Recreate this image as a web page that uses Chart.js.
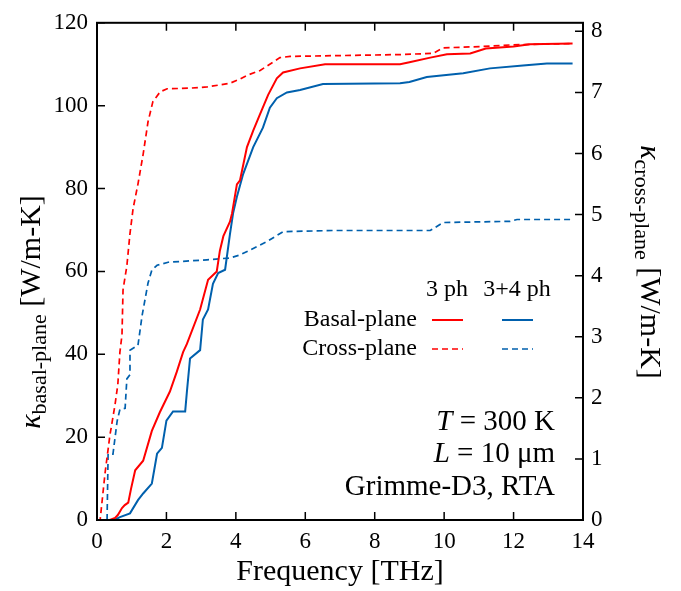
<!DOCTYPE html>
<html>
<head>
<meta charset="utf-8">
<script src="https://cdn.jsdelivr.net/npm/chart.js@4.4.1/dist/chart.umd.min.js"></script>
<style>
  html, body { margin: 0; padding: 0; background: #fff; }
</style>
</head>
<body>
<canvas id="chart" width="681" height="591"></canvas>
<script>
// [frequency THz, kappa W/m-K]
const basal3 = [[0,0],[0.37,0],[0.52,0.5],[0.6,1.2],[0.72,2.9],[0.8,3.6],[0.9,4.2],[0.98,7.5],[1.1,12],[1.33,14.3],[1.58,21.5],[1.81,26],[2.1,31],[2.3,35.8],[2.48,40.5],[2.59,42.5],[2.97,50.8],[3.2,58],[3.45,60],[3.54,65],[3.64,68.5],[3.83,72],[3.89,74],[4.03,81],[4.12,82],[4.32,90],[4.5,94],[4.7,98],[4.93,102.6],[5.18,106.6],[5.36,108],[5.85,109],[6.57,110],[8.73,110],[9.0,110.5],[9.6,111.6],[10.08,112.4],[10.75,112.6],[11.2,113.8],[12.0,114.3],[12.47,114.8],[13.7,115]];
const basal34 = [[0,0],[0.5,0],[0.66,0.7],[0.95,1.6],[1.18,4.8],[1.33,6.4],[1.58,8.8],[1.73,16],[1.87,17.4],[2.0,24],[2.19,26.2],[2.54,26.2],[2.59,31],[2.68,39],[2.97,41],[3.05,48.4],[3.2,50.8],[3.34,57],[3.49,59.6],[3.69,60.4],[3.83,69],[3.92,74],[4.03,78],[4.21,83.5],[4.5,90],[4.78,94.7],[4.98,99.5],[5.18,101.8],[5.47,103.2],[5.85,103.8],[6.51,105.2],[8.73,105.4],[9.0,105.7],[9.5,106.9],[10.55,107.8],[11.32,109],[12.27,109.7],[12.96,110.2],[13.7,110.2]];
const cross3 = [[0,0],[0.09,0],[0.23,0.76],[0.37,1.38],[0.52,1.89],[0.6,2.22],[0.66,2.75],[0.72,3.03],[0.75,3.77],[0.86,4.16],[0.95,4.69],[1.04,5.1],[1.18,5.5],[1.33,5.99],[1.47,6.52],[1.61,6.85],[1.82,7.01],[2.02,7.06],[2.68,7.07],[3.17,7.09],[3.83,7.15],[4.12,7.22],[4.32,7.28],[4.7,7.36],[5.27,7.57],[5.56,7.59],[8.73,7.62],[9.68,7.64],[9.97,7.73],[11.03,7.75],[11.99,7.78],[13.71,7.8]];
const cross34 = [[0,0],[0.29,0],[0.32,1.08],[0.46,1.08],[0.58,1.62],[0.66,1.81],[0.81,1.83],[0.86,2.31],[0.95,2.38],[0.95,2.78],[1.18,2.86],[1.3,3.35],[1.47,3.88],[1.58,4.09],[1.73,4.17],[2.05,4.22],[3.17,4.26],[3.83,4.29],[4.12,4.34],[4.41,4.42],[4.9,4.56],[5.36,4.72],[6.8,4.74],[8.73,4.74],[9.6,4.74],[9.8,4.81],[9.97,4.87],[11.9,4.89],[12.1,4.92],[13.71,4.92]];

const RED = '#ff0000';
const BLUE = '#0060ad';
const SERIF = '"Liberation Serif", "DejaVu Serif", serif';

function pts(arr) {
    return arr.map(p => ({ x: p[0], y: p[1] }));
}

// kappa axis title with a subscript, drawn along a rotated baseline
function kappaTitle(ctx, cx, cy, angle, sub) {
    ctx.save();
    ctx.translate(cx, cy);
    ctx.rotate(angle);
    ctx.textBaseline = 'alphabetic';
    ctx.textAlign = 'left';
    const big = '30px ' + SERIF, bigIt = 'italic 30px ' + SERIF, small = '22px ' + SERIF;
    ctx.font = bigIt; const w1 = ctx.measureText('\u03ba').width;
    ctx.font = small; const w2 = ctx.measureText(sub).width;
    ctx.font = big; const w3 = ctx.measureText(' [W/m-K]').width;
    let x = -(w1 + w2 + w3) / 2;
    ctx.fillStyle = '#000';
    ctx.font = bigIt; ctx.fillText('\u03ba', x, 0); x += w1;
    ctx.font = small; ctx.fillText(sub, x, 6); x += w2;
    ctx.font = big; ctx.fillText(' [W/m-K]', x, 0);
    ctx.restore();
}

// right-aligned line that starts with an italic symbol
function italicLead(ctx, right, y, lead, rest) {
    ctx.font = '29px ' + SERIF;
    const wr = ctx.measureText(rest).width;
    ctx.textAlign = 'right';
    ctx.fillText(rest, right, y);
    ctx.font = 'italic 29px ' + SERIF;
    ctx.fillText(lead, right - wr, y);
}

const frame = {
    id: 'frame',
    afterDraw(chart) {
        const ctx = chart.ctx, a = chart.chartArea;
        const sx = chart.scales.x, sy = chart.scales.y, sy2 = chart.scales.y2;
        ctx.save();
        ctx.strokeStyle = '#000';
        ctx.lineWidth = 1.5;
        ctx.beginPath();
        sx.ticks.forEach(t => {
            const px = sx.getPixelForValue(t.value);
            ctx.moveTo(px, a.bottom); ctx.lineTo(px, a.bottom - 8);
            ctx.moveTo(px, a.top); ctx.lineTo(px, a.top + 8);
        });
        sy.ticks.forEach(t => {
            const py = sy.getPixelForValue(t.value);
            ctx.moveTo(a.left, py); ctx.lineTo(a.left + 8, py);
        });
        sy2.ticks.forEach(t => {
            const py = sy2.getPixelForValue(t.value);
            ctx.moveTo(a.right, py); ctx.lineTo(a.right - 8, py);
        });
        ctx.stroke();
        ctx.lineWidth = 2;
        ctx.strokeRect(a.left, a.top, a.right - a.left, a.bottom - a.top);

        ctx.fillStyle = '#000';
        ctx.textBaseline = 'alphabetic';
        ctx.font = '30px ' + SERIF;
        ctx.textAlign = 'center';
        ctx.fillText('Frequency [THz]', (a.left + a.right) / 2, 580);

        kappaTitle(ctx, 40, 312, -Math.PI / 2, 'basal-plane');
        kappaTitle(ctx, 641, 262, Math.PI / 2, 'cross-plane');

        // legend
        ctx.font = '24px ' + SERIF;
        ctx.textAlign = 'center';
        ctx.fillText('3 ph', 447, 296);
        ctx.fillText('3+4 ph', 517, 296);
        ctx.textAlign = 'right';
        ctx.fillText('Basal-plane', 417, 326);
        ctx.fillText('Cross-plane', 417, 355);
        chart.data.datasets.forEach((ds, i) => {
            const x0 = i % 2 === 0 ? 432 : 502;
            const y0 = i < 2 ? 320 : 349;
            ctx.strokeStyle = ds.borderColor;
            ctx.lineWidth = ds.borderWidth;
            ctx.setLineDash(ds.borderDash || []);
            ctx.beginPath();
            ctx.moveTo(x0, y0); ctx.lineTo(x0 + 31, y0);
            ctx.stroke();
        });
        ctx.setLineDash([]);

        // conditions
        ctx.fillStyle = '#000';
        italicLead(ctx, 555, 430, 'T', ' = 300 K');
        italicLead(ctx, 555, 462, 'L', ' = 10 \u03bcm');
        ctx.font = '29px ' + SERIF;
        ctx.textAlign = 'right';
        ctx.fillText('Grimme-D3, RTA', 555, 495);
        ctx.restore();
    }
};

const tickFont = { family: SERIF, size: 23 };

new Chart(document.getElementById('chart'), {
    type: 'line',
    data: {
        datasets: [
            { label: 'Basal-plane 3 ph', data: pts(basal3), yAxisID: 'y', borderColor: RED, borderWidth: 2 },
            { label: 'Basal-plane 3+4 ph', data: pts(basal34), yAxisID: 'y', borderColor: BLUE, borderWidth: 2 },
            { label: 'Cross-plane 3 ph', data: pts(cross3), yAxisID: 'y2', borderColor: RED, borderWidth: 1.7, borderDash: [6, 4] },
            { label: 'Cross-plane 3+4 ph', data: pts(cross34), yAxisID: 'y2', borderColor: BLUE, borderWidth: 1.7, borderDash: [6, 4] }
        ]
    },
    options: {
        responsive: false,
        animation: false,
        devicePixelRatio: 1,
        layout: { padding: { top: 17, left: 0, right: 0, bottom: 0 } },
        elements: { point: { radius: 0 }, line: { tension: 0, fill: false } },
        plugins: { legend: { display: false }, tooltip: { enabled: false } },
        scales: {
            x: {
                type: 'linear', min: 0, max: 14,
                ticks: { stepSize: 2, font: tickFont, color: '#000', padding: 8, maxRotation: 0 },
                grid: { display: false, drawTicks: false },
                border: { display: false },
                afterFit: s => { s.height = 71; }
            },
            y: {
                position: 'left', min: 0, max: 120,
                ticks: { stepSize: 20, font: tickFont, color: '#000', padding: 9 },
                grid: { display: false, drawTicks: false },
                border: { display: false },
                afterFit: s => { s.width = 97; }
            },
            y2: {
                position: 'right', min: 0, max: 8.14,
                ticks: { stepSize: 1, includeBounds: false, font: tickFont, color: '#000', padding: 8 },
                grid: { display: false, drawTicks: false },
                border: { display: false },
                afterFit: s => { s.width = 98; }
            }
        }
    },
    plugins: [frame]
});
</script>
</body>
</html>
